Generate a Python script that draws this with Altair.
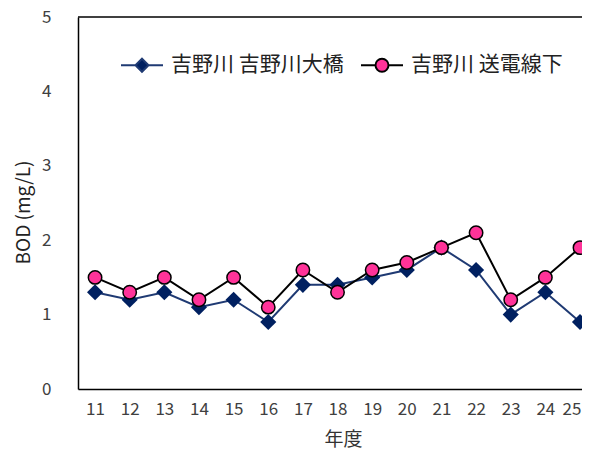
import altair as alt
import pandas as pd

years = ["11", "12", "13", "14", "15", "16", "17", "18", "19", "20", "21", "22", "23", "24", "25"]
ohashi = [1.3, 1.2, 1.3, 1.1, 1.2, 0.9, 1.4, 1.4, 1.5, 1.6, 1.9, 1.6, 1.0, 1.3, 0.9]
sodensen = [1.5, 1.3, 1.5, 1.2, 1.5, 1.1, 1.6, 1.3, 1.6, 1.7, 1.9, 2.1, 1.2, 1.5, 1.9]
series_names = ["吉野川 吉野川大橋", "吉野川 送電線下"]
y_ticks = [0, 1, 2, 3, 4, 5]

NAVY_LINE = "#1f3a73"
NAVY = "#002060"
PINK = "#ff3399"
FONT = "Noto Sans CJK JP"

df = pd.DataFrame({
    "year": years * 2,
    "bod": ohashi + sodensen,
    "series": [series_names[0]] * len(years) + [series_names[1]] * len(years),
})

W, H = 504, 372

x_enc = alt.X("year:O", sort=years,
              scale=alt.Scale(type="point", padding=0.275, align=0.895),
              axis=alt.Axis(title="年度", labelAngle=0, ticks=False, grid=False,
                            domain=True, domainColor="black", domainWidth=1.5,
                            labelFont=FONT, labelFontSize=17, labelColor="#404040",
                            labelPadding=12, labelFlush=3, labelFlushOffset=1,
                            titleFont=FONT, titleFontSize=19, titleFontWeight="normal",
                            titleColor="#333333", titleX=265, titleY=50,
                            titleBaseline="middle", titleAnchor="middle"))
y_enc = alt.Y("bod:Q", scale=alt.Scale(domain=[0, 5], nice=False),
              axis=alt.Axis(title="BOD (mg/L)", values=y_ticks, format="d",
                            ticks=False, grid=False, domain=True,
                            domainColor="black", domainWidth=1.5,
                            labelFont=FONT, labelFontSize=17, labelColor="#404040",
                            labelPadding=27,
                            titleFont=FONT, titleFontSize=19, titleFontWeight="normal",
                            titleColor="#222222", titleX=-55, titleY=195,
                            titleAngle=270, titleBaseline="middle", titleAlign="center"))

base = alt.Chart(df)

s1 = base.transform_filter(alt.datum.series == series_names[0])
s2 = base.transform_filter(alt.datum.series == series_names[1])

line1 = s1.mark_line(color=NAVY_LINE, strokeWidth=2).encode(x=x_enc, y=y_enc)
pts1 = s1.mark_point(shape="diamond", filled=True, size=260, color=NAVY, opacity=1).encode(x=x_enc, y=y_enc)
line2 = s2.mark_line(color="black", strokeWidth=2).encode(x=x_enc, y=y_enc)
pts2 = s2.mark_point(shape="circle", filled=True, size=180, fill=PINK, stroke="black",
                     strokeWidth=1.5, opacity=1).encode(x=x_enc, y=y_enc)

diamond_leg = "M-1,0L-0.31,0M0.31,0L1,0M0,-0.31L0.31,0L0,0.31L-0.31,0Z"
circle_leg = ("M-1,0L-0.31,0M0.31,0L1,0M0.31,0A0.31,0.31,0,1,1,-0.31,0"
              "A0.31,0.31,0,1,1,0.31,0Z")

legend_layer = base.transform_filter("false").mark_point(filled=True, opacity=1).encode(
    x=x_enc, y=y_enc,
    shape=alt.Shape("series:N", scale=alt.Scale(domain=series_names, range=[diamond_leg, circle_leg]),
                    legend=alt.Legend(title=None, orient="none", legendX=42, legendY=26,
                                      direction="horizontal", columns=2, columnPadding=13,
                                      labelOffset=7, symbolSize=1764, symbolStrokeWidth=2,
                                      labelFont=FONT, labelFontSize=21, labelColor="#222222",
                                      padding=0, labelLimit=400)),
    fill=alt.Fill("series:N", scale=alt.Scale(domain=series_names, range=[NAVY, PINK])),
    stroke=alt.Stroke("series:N", scale=alt.Scale(domain=series_names, range=[NAVY_LINE, "black"])),
)

frame = alt.Chart(alt.Data(values=[{}])).mark_rule(color="black", strokeWidth=1.5).encode(
    x=alt.value(0), x2=alt.value(W), y=alt.value(0))

chart = alt.layer(frame, line1, pts1, line2, pts2, legend_layer).properties(
    width=W, height=H,
    autosize=alt.AutoSizeParams(type="none"),
    padding={"left": 70, "top": 9, "right": 0, "bottom": 60},
).configure_view(stroke=None)

chart.save("out.html", embed_options={"renderer": "svg", "actions": False})
